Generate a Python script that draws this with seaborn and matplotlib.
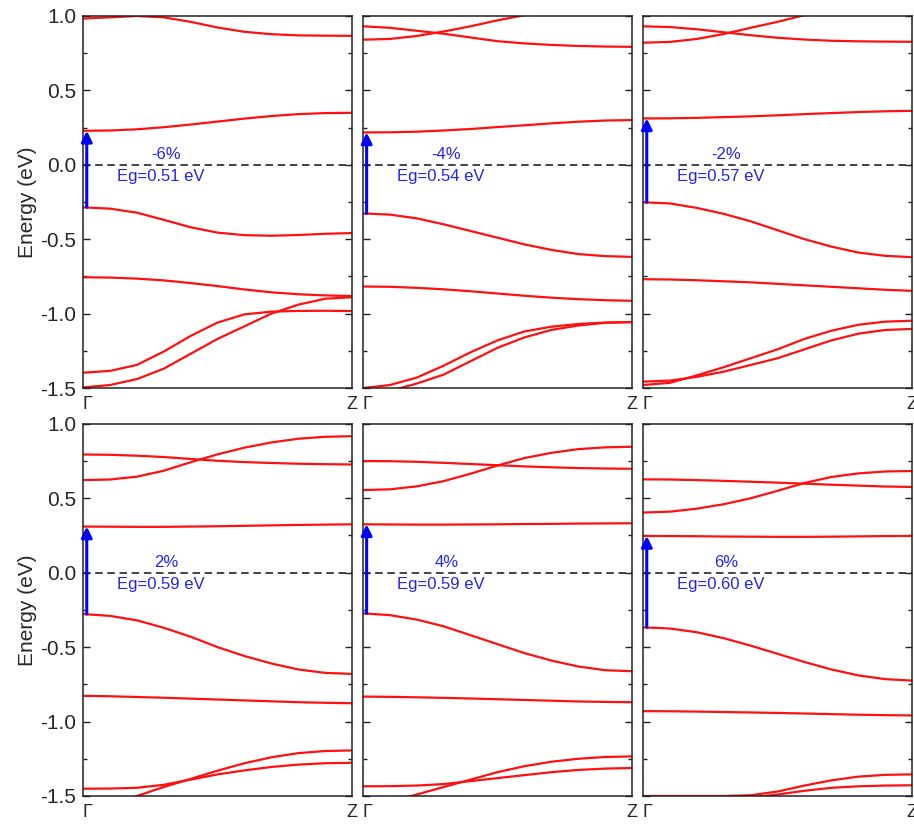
"""Bandstruktur unter Dehnung (-6% ... +6%), Gamma-Z."""

import matplotlib
matplotlib.use("Agg")
import matplotlib.pyplot as plt
import matplotlib.ticker as mticker
import seaborn as sns
import pandas as pd

sns.set_theme(style="ticks")
plt.rcParams["font.family"] = ["Liberation Sans", "DejaVu Sans"]

# k-Pfad Gamma -> Z (Bruchteil)
K = [0.0, 0.1, 0.2, 0.3, 0.4, 0.5, 0.6, 0.7, 0.8, 0.9, 1.0]

STRAINS = ["-6%", "-4%", "-2%", "2%", "4%", "6%"]
GAPS = [0.51, 0.54, 0.57, 0.59, 0.59, 0.60]

# Baender je Panel (eV); Index 1 = Leitungsbandminimum, Index 2 = Valenzbandmaximum
BANDS_M6 = [
    [0.982, 0.99, 0.999, 0.99, 0.96, 0.922, 0.893, 0.877, 0.869, 0.867, 0.866],
    [0.228, 0.23, 0.238, 0.252, 0.27, 0.29, 0.31, 0.327, 0.34, 0.347, 0.349],
    [-0.286, -0.295, -0.322, -0.37, -0.42, -0.456, -0.473, -0.477, -0.472, -0.464, -0.459],
    [-0.756, -0.758, -0.765, -0.777, -0.795, -0.815, -0.838, -0.857, -0.87, -0.878, -0.882],
    [-1.397, -1.385, -1.345, -1.255, -1.15, -1.06, -1.005, -0.987, -0.982, -0.981, -0.983],
    [-1.496, -1.48, -1.44, -1.37, -1.27, -1.17, -1.085, -1.0, -0.94, -0.90, -0.89],
]
BANDS_M4 = [
    [0.93, 0.92, 0.90, 0.88, 0.855, 0.83, 0.815, 0.805, 0.798, 0.794, 0.792],
    [0.217, 0.218, 0.222, 0.23, 0.24, 0.253, 0.265, 0.278, 0.289, 0.297, 0.30],
    [-0.327, -0.335, -0.36, -0.40, -0.445, -0.49, -0.535, -0.572, -0.60, -0.614, -0.619],
    [-0.818, -0.82, -0.827, -0.837, -0.85, -0.865, -0.88, -0.893, -0.903, -0.91, -0.914],
    [0.84, 0.845, 0.865, 0.895, 0.93, 0.97, 1.005, 1.04, 1.07, 1.09, 1.10],
    [-1.50, -1.48, -1.43, -1.35, -1.26, -1.18, -1.12, -1.088, -1.07, -1.06, -1.057],
    [-1.55, -1.52, -1.47, -1.41, -1.32, -1.23, -1.16, -1.11, -1.08, -1.062, -1.057],
]
BANDS_M2 = [
    [0.93, 0.925, 0.91, 0.89, 0.87, 0.853, 0.841, 0.833, 0.829, 0.827, 0.826],
    [0.311, 0.312, 0.315, 0.32, 0.325, 0.332, 0.34, 0.347, 0.354, 0.359, 0.362],
    [-0.252, -0.26, -0.29, -0.33, -0.38, -0.44, -0.50, -0.55, -0.59, -0.612, -0.621],
    [-0.769, -0.771, -0.776, -0.783, -0.79, -0.80, -0.81, -0.82, -0.83, -0.84, -0.847],
    [0.82, 0.825, 0.845, 0.878, 0.92, 0.96, 1.005, 1.04, 1.07, 1.09, 1.10],
    [-1.457, -1.45, -1.425, -1.39, -1.345, -1.30, -1.24, -1.18, -1.135, -1.11, -1.103],
    [-1.48, -1.465, -1.415, -1.36, -1.30, -1.24, -1.17, -1.115, -1.075, -1.054, -1.048],
]
BANDS_P2 = [
    [0.794, 0.792, 0.786, 0.777, 0.764, 0.752, 0.743, 0.737, 0.732, 0.729, 0.727],
    [0.31, 0.309, 0.308, 0.308, 0.31, 0.312, 0.315, 0.318, 0.321, 0.323, 0.325],
    [-0.278, -0.29, -0.32, -0.37, -0.43, -0.50, -0.56, -0.61, -0.65, -0.673, -0.68],
    [-0.827, -0.83, -0.835, -0.84, -0.846, -0.852, -0.858, -0.864, -0.87, -0.874, -0.877],
    [0.622, 0.626, 0.645, 0.685, 0.742, 0.795, 0.84, 0.875, 0.90, 0.913, 0.917],
    [-1.451, -1.45, -1.445, -1.425, -1.39, -1.355, -1.328, -1.305, -1.289, -1.28, -1.277],
    [-1.60, -1.56, -1.50, -1.44, -1.385, -1.33, -1.28, -1.24, -1.212, -1.198, -1.194],
]
BANDS_P4 = [
    [0.75, 0.749, 0.745, 0.738, 0.73, 0.722, 0.714, 0.708, 0.703, 0.70, 0.698],
    [0.325, 0.324, 0.323, 0.323, 0.324, 0.325, 0.327, 0.328, 0.33, 0.331, 0.332],
    [-0.273, -0.285, -0.315, -0.36, -0.42, -0.48, -0.54, -0.59, -0.63, -0.655, -0.662],
    [-0.832, -0.834, -0.837, -0.841, -0.845, -0.85, -0.855, -0.86, -0.865, -0.868, -0.87],
    [0.555, 0.56, 0.58, 0.615, 0.665, 0.72, 0.77, 0.805, 0.83, 0.842, 0.846],
    [-1.435, -1.434, -1.43, -1.42, -1.40, -1.38, -1.36, -1.34, -1.325, -1.316, -1.312],
    [-1.58, -1.54, -1.49, -1.44, -1.39, -1.34, -1.30, -1.27, -1.25, -1.238, -1.234],
]
BANDS_P6 = [
    [0.627, 0.626, 0.622, 0.617, 0.611, 0.605, 0.598, 0.591, 0.585, 0.579, 0.576],
    [0.247, 0.246, 0.245, 0.243, 0.242, 0.241, 0.241, 0.242, 0.244, 0.246, 0.247],
    [-0.367, -0.375, -0.40, -0.44, -0.49, -0.545, -0.60, -0.65, -0.69, -0.715, -0.725],
    [-0.93, -0.931, -0.933, -0.936, -0.939, -0.942, -0.946, -0.95, -0.954, -0.957, -0.959],
    [0.404, 0.41, 0.43, 0.46, 0.50, 0.55, 0.603, 0.643, 0.667, 0.68, 0.683],
    [-1.50, -1.50, -1.50, -1.50, -1.495, -1.47, -1.43, -1.395, -1.37, -1.358, -1.355],
    [-1.58, -1.57, -1.55, -1.53, -1.51, -1.49, -1.465, -1.445, -1.435, -1.43, -1.428],
]
ALL_BANDS = [BANDS_M6, BANDS_M4, BANDS_M2, BANDS_P2, BANDS_P4, BANDS_P6]

# Panelpositionen (Bruchteil der Abbildung)
LEFTS = [0.0908, 0.397, 0.7035]
BOTTOMS = [0.5308, 0.0375]
WIDTH, HEIGHT = 0.2945, 0.450

fig = plt.figure(figsize=(9.14, 8.27), dpi=100)

for i, bands in enumerate(ALL_BANDS):
    row, col = divmod(i, 3)
    ax = fig.add_axes([LEFTS[col], BOTTOMS[row], WIDTH, HEIGHT])

    df = pd.DataFrame(
        [(b, k, e) for b, band in enumerate(bands) for k, e in zip(K, band)],
        columns=["band", "k", "E"],
    )
    sns.lineplot(data=df, x="k", y="E", units="band", estimator=None,
                 color="#ff1010", linewidth=1.6, ax=ax, legend=False)
    for line in ax.get_lines():
        line.set_solid_joinstyle("round")

    # Fermi-Niveau
    ax.axhline(0, color="#222222", linestyle=(0, (4.5, 2.8)), linewidth=1.2, zorder=1)

    cbm, vbm = bands[1][0], bands[2][0]
    ax.annotate("", xy=(0.014, cbm), xytext=(0.014, vbm),
                arrowprops=dict(arrowstyle="-|>", color="blue", lw=2.2,
                                mutation_scale=16, shrinkA=0, shrinkB=0))
    ax.text(0.31, 0.066, STRAINS[i], color="#2323f0", fontsize=12,
            ha="center", va="center")
    ax.text(0.127, -0.082, f"Eg={GAPS[i]:.2f} eV", color="#2323f0", fontsize=12,
            ha="left", va="center")

    ax.set_xlim(0, 1)
    ax.set_ylim(-1.5, 1.0)
    ax.yaxis.set_major_locator(mticker.MultipleLocator(0.5))
    ax.yaxis.set_minor_locator(mticker.MultipleLocator(0.25))
    ax.tick_params(axis="y", which="both", direction="in", left=True, right=True,
                   color="#222222", width=1.0)
    ax.tick_params(axis="y", which="major", length=5, labelsize=15, pad=5)
    ax.tick_params(axis="y", which="minor", length=3)
    ax.set_xticks([0, 1], ["Γ", "Z"])
    ax.tick_params(axis="x", length=0, labelsize=13, pad=6)
    ax.get_xticklabels()[0].set_ha("left")
    ax.set_xlabel("")
    for spine in ax.spines.values():
        spine.set_color("#222222")
        spine.set_linewidth(1.1)
    if col == 0:
        ax.set_ylabel("Energy (eV)", fontsize=15, labelpad=2)
        ax.yaxis.set_major_formatter(mticker.FormatStrFormatter("%.1f"))
    else:
        ax.set_ylabel("")
        ax.tick_params(axis="y", labelleft=False)

fig.savefig("out.png", dpi=100)
